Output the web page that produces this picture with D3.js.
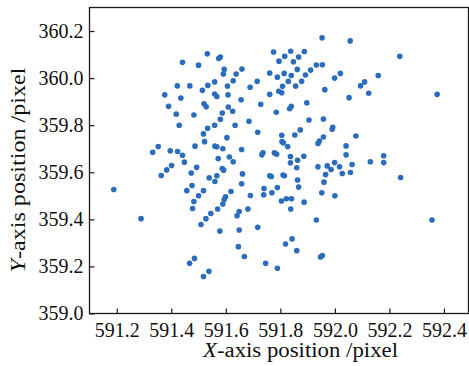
<!DOCTYPE html>
<html>
<head>
<meta charset="utf-8">
<script src="https://cdn.jsdelivr.net/npm/d3@7"></script>
<style>
  html, body { margin: 0; padding: 0; background: #fff; }
  svg { display: block; font-family: 'Liberation Serif', 'Times New Roman', serif; }
</style>
</head>
<body>
<div id="chart"></div>
<script>
// centroid positions
const xValues = [
  591.532, 591.441, 591.500, 591.422, 591.468, 591.534, 591.514, 591.559, 591.376, 591.435,
  591.559, 591.567, 591.520, 591.528, 591.390, 591.418, 591.483, 591.429, 591.559, 591.533,
  591.518, 591.522, 591.487, 591.560, 591.567, 591.352, 591.332, 591.396, 591.423, 591.441,
  591.401, 591.448, 591.493, 591.383,
  591.953, 591.580, 591.574, 591.775, 591.838, 591.888, 591.816, 591.867, 591.795, 591.848,
  591.594, 591.591, 591.659, 591.638, 591.627, 591.606, 591.715, 591.689, 591.761, 591.789,
  591.814, 591.840, 591.862, 591.829, 591.808, 591.856, 591.878, 591.892, 591.911, 591.932,
  591.954, 591.963, 591.608, 591.656, 591.761, 591.794, 591.805, 591.728, 591.609, 591.625,
  591.587, 591.840, 591.834, 591.897, 591.785, 591.580, 591.634, 591.685, 591.905, 591.604,
  591.717, 591.805, 591.806, 591.811, 591.853, 591.873, 591.938, 591.943, 591.589, 591.658,
  591.827, 591.736, 591.732, 591.778, 591.786, 591.837, 591.886, 591.863, 591.572, 591.613,
  591.627, 591.837, 591.860, 591.587, 591.592, 591.938,
  592.056, 592.238, 592.020, 591.999, 592.159, 592.109, 592.094, 592.124, 592.052, 592.375,
  591.958, 591.992, 591.990, 591.958, 592.077, 592.041, 592.041, 592.179, 592.179, 592.130,
  592.063, 591.999, 592.017, 591.972, 591.986,
  591.966, 592.027, 592.057, 591.960, 591.952, 592.000, 592.241, 592.356, 591.947, 591.954,
  591.363, 591.189, 591.289, 591.473, 591.539, 591.560, 591.476, 591.457, 591.518, 591.500,
  591.483, 591.478, 591.545, 591.527, 591.509, 591.485, 591.467, 591.538, 591.518,
  591.567, 591.661, 591.658, 591.619, 591.599, 591.594, 591.589, 591.570, 591.690, 591.649,
  591.641, 591.681, 591.578, 591.649, 591.717, 591.646, 591.668, 591.746, 591.789, 591.761,
  591.767, 591.810, 591.815, 591.740, 591.739, 591.769, 591.789, 591.863, 591.867, 591.804,
  591.822, 591.841, 591.887, 591.838, 591.932, 591.843, 591.819, 591.860
];

const yValues = [
  360.103, 360.067, 360.055, 359.967, 359.967, 359.969, 359.948, 359.984, 359.929, 359.915,
  359.932, 359.922, 359.891, 359.878, 359.880, 359.847, 359.843, 359.800, 359.800, 359.787,
  359.763, 359.730, 359.711, 359.711, 359.708, 359.709, 359.685, 359.691, 359.688, 359.672,
  359.629, 359.643, 359.621, 359.610,
  360.171, 360.090, 360.083, 360.111, 360.114, 360.113, 360.093, 360.090, 360.072, 360.069,
  360.037, 360.017, 360.039, 360.017, 359.989, 359.966, 359.986, 359.961, 360.021, 360.004,
  360.020, 360.011, 360.037, 359.986, 359.965, 359.966, 359.987, 360.013, 360.034, 360.056,
  360.057, 359.951, 359.929, 359.908, 359.931, 359.944, 359.938, 359.889, 359.877, 359.859,
  359.852, 359.880, 359.870, 359.895, 359.855, 359.825, 359.800, 359.817, 359.822, 359.747,
  359.770, 359.757, 359.730, 359.725, 359.758, 359.780, 359.722, 359.733, 359.700, 359.697,
  359.709, 359.683, 359.674, 359.683, 359.677, 359.667, 359.668, 359.651, 359.658, 359.665,
  359.645, 359.640, 359.619, 359.616, 359.609, 359.623,
  360.158, 360.093, 360.020, 360.000, 360.011, 359.984, 359.967, 359.936, 359.917, 359.931,
  359.826, 359.791, 359.783, 359.750, 359.754, 359.712, 359.674, 359.670, 359.641, 359.645,
  359.633, 359.641, 359.623, 359.627, 359.612,
  359.590, 359.595, 359.599, 359.558, 359.513, 359.500, 359.578, 359.397, 359.240, 359.246,
  359.586, 359.527, 359.403, 359.597, 359.576, 359.561, 359.544, 359.522, 359.522, 359.500,
  359.476, 359.446, 359.425, 359.403, 359.378, 359.234, 359.213, 359.179, 359.157,
  359.585, 359.593, 359.551, 359.518, 359.496, 359.484, 359.465, 359.444, 359.501, 359.433,
  359.415, 359.444, 359.350, 359.355, 359.366, 359.284, 359.242, 359.213, 359.192, 359.585,
  359.582, 359.588, 359.585, 359.531, 359.504, 359.513, 359.535, 359.567, 359.537, 359.478,
  359.487, 359.487, 359.473, 359.444, 359.397, 359.317, 359.295, 359.267
];

const xTicks = [591.2, 591.4, 591.6, 591.8, 592.0, 592.2, 592.4];
const yTicks = [359.0, 359.2, 359.4, 359.6, 359.8, 360.0, 360.2];
const xDomain = [591.1, 592.49];
const yDomain = [359.0, 360.3];

const width = 469;
const height = 366;
const plot = { left: 89.5, right: 468.5, top: 7.5, bottom: 313.5 };
const serif = "'Liberation Serif', 'Times New Roman', serif";

const points = xValues.map((x, i) => ({ x: x, y: yValues[i] }));

const svg = d3.select('#chart').append('svg')
  .attr('width', width)
  .attr('height', height);

const xScale = d3.scaleLinear().domain(xDomain).range([plot.left, plot.right]);
const yScale = d3.scaleLinear().domain(yDomain).range([plot.bottom, plot.top]);

// frame
svg.append('rect')
  .attr('x', plot.left)
  .attr('y', plot.top)
  .attr('width', plot.right - plot.left)
  .attr('height', plot.bottom - plot.top)
  .attr('fill', 'none')
  .attr('stroke', '#1a1a1a')
  .attr('stroke-width', 1.3);

// inward ticks
svg.append('g')
  .attr('class', 'x axis')
  .attr('transform', `translate(0,${plot.bottom})`)
  .call(d3.axisBottom(xScale).tickValues(xTicks).tickFormat(d3.format('.1f'))
    .tickSizeInner(-5).tickSizeOuter(0).tickPadding(9))
  .call(g => g.select('.domain').remove())
  .selectAll('text')
  .style('font-family', serif)
  .style('font-size', '20px')
  .attr('fill', '#111');

svg.append('g')
  .attr('class', 'y axis')
  .attr('transform', `translate(${plot.left},0)`)
  .call(d3.axisLeft(yScale).tickValues(yTicks).tickFormat(d3.format('.1f'))
    .tickSizeInner(-5).tickSizeOuter(0).tickPadding(6))
  .call(g => g.select('.domain').remove())
  .selectAll('text')
  .style('font-family', serif)
  .style('font-size', '20px')
  .attr('fill', '#111');

svg.selectAll('.tick line')
  .attr('stroke', '#1a1a1a')
  .attr('stroke-width', 1.2);

// points
svg.append('g')
  .selectAll('circle')
  .data(points)
  .enter()
  .append('circle')
  .attr('cx', d => xScale(d.x))
  .attr('cy', d => yScale(d.y))
  .attr('r', 2.8)
  .attr('fill', '#2b6cbf');

// axis titles
const xTitle = svg.append('text')
  .attr('x', 300.5)
  .attr('y', 357)
  .attr('text-anchor', 'middle')
  .attr('textLength', 195)
  .attr('lengthAdjust', 'spacingAndGlyphs')
  .style('font-family', serif)
  .style('font-size', '20px')
  .attr('fill', '#111');
xTitle.append('tspan').style('font-style', 'italic').text('X');
xTitle.append('tspan').text('-axis position /pixel');

const yTitle = svg.append('text')
  .attr('transform', 'translate(25,170) rotate(-90)')
  .attr('text-anchor', 'middle')
  .attr('textLength', 205)
  .attr('lengthAdjust', 'spacingAndGlyphs')
  .style('font-family', serif)
  .style('font-size', '20px')
  .attr('fill', '#111');
yTitle.append('tspan').style('font-style', 'italic').text('Y');
yTitle.append('tspan').text('-axis position /pixel');
</script>
</body>
</html>
